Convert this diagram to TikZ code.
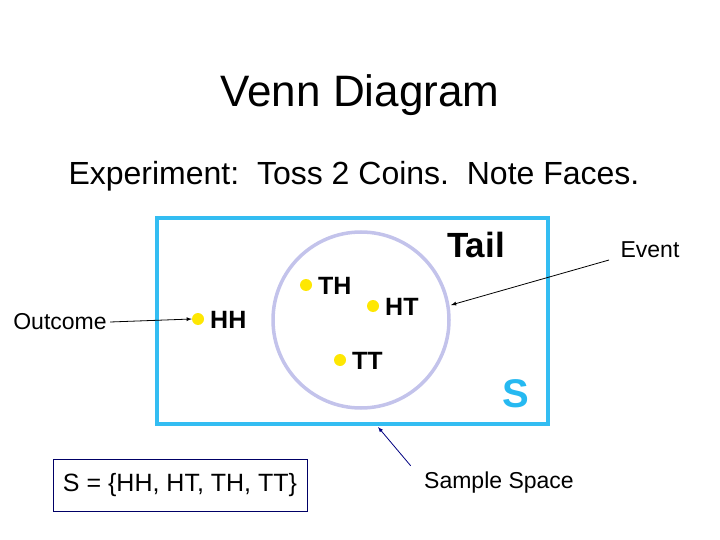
\documentclass[tikz,border=0pt]{standalone}
\usepackage{fontspec}
\setmainfont{Liberation Sans}
\definecolor{lav}{RGB}{195,195,235}
\begin{document}
\begin{tikzpicture}[x=1pt,y=-1pt,
  dot/.style={circle,fill=yellow!90!orange,inner sep=0pt,minimum size=12pt},
  lab/.style={font=\bfseries\fontsize{25}{28}\selectfont,anchor=west,inner sep=1pt},
  small/.style={font=\fontsize{23}{26}\selectfont},
  arr/.style={-latex,thick}]
\useasboundingbox (0,0) rectangle (720,540);
\node (title) at (360,95) {\fontsize{44}{50}\selectfont Venn Diagram};
\node (exp) at (354,176) {\fontsize{32}{36}\selectfont Experiment:\ \ Toss 2 Coins.\ \ Note Faces.};
\draw[cyan!80!white,line width=4pt] (157,218) rectangle (548,424);
\node[draw=lav,line width=3.5pt,circle,minimum size=176pt,inner sep=0pt] (c) at (361,320) {};
\node[font=\bfseries\fontsize{35}{40}\selectfont] (tail) at (476,245) {Tail};
\node[font=\bfseries\fontsize{40}{44}\selectfont,text=cyan!85!white] (s) at (516,394) {S};
\node[dot] (hh) at (198,319) {}; \node[lab] at (209,320) {HH};
\node[dot] (th) at (306,285) {}; \node[lab] at (317,286) {TH};
\node[dot] (ht) at (373,306) {}; \node[lab] at (384,307) {HT};
\node[dot] (tt) at (340,360) {}; \node[lab] at (351,361) {TT};
\node[small] (out) at (60,322) {Outcome};
\node[small] (ev) at (650,250) {Event};
\node[small] (ss) at (499,483) {Sample Space};
\node[draw=blue!40!black,line width=1pt,minimum width=254pt,minimum height=52pt,font=\fontsize{25}{28}\selectfont] (set) at (180,485) {S = \{HH, HT, TH, TT\}};
\coordinate (ce) at (451,305);
\coordinate (rb) at (378,427);
\draw[arr] (out.east) -- (hh.west);
\draw[arr] (ev.west) ++(-8,10) -- (ce);
\draw[arr,blue!50!black] (ss.north west) ++(-10,-3) -- (rb);
\end{tikzpicture}
\end{document}
